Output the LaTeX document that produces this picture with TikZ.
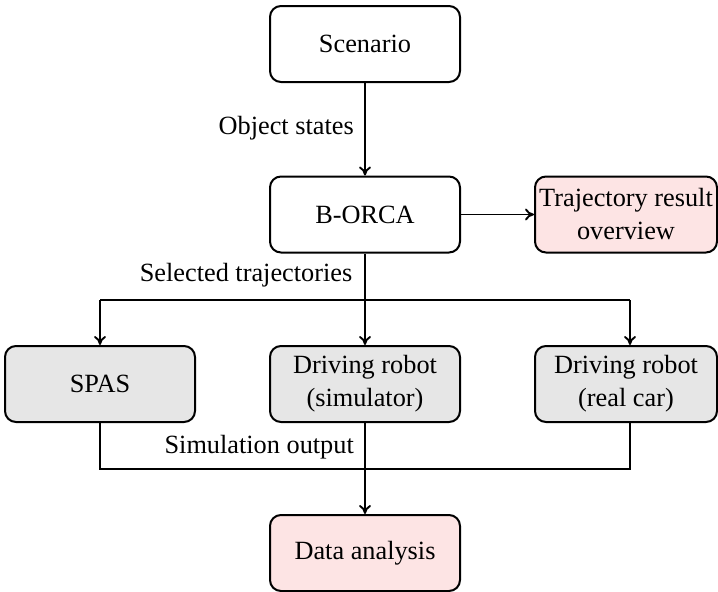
\documentclass[tikz,border=0pt]{standalone}
\usepackage{fontspec}
\setmainfont{Liberation Serif}
\usetikzlibrary{arrows.meta}
\definecolor{pinkfill}{HTML}{FDE4E4}
\definecolor{grayfill}{HTML}{E6E6E6}
\begin{document}
\begin{tikzpicture}[x=1pt,y=-1pt,
  font=\fontsize{26.3}{33}\selectfont,
  box/.style={draw, line width=2pt, rounded corners=11pt, minimum width=190pt,
    minimum height=76pt, align=center, inner sep=3pt},
  narrowbox/.style={box, minimum width=182pt},
  pinkbox/.style={fill=pinkfill},
  graybox/.style={fill=grayfill},
  conn/.style={line width=1.9pt},
  arr/.style={conn, -{To[length=9pt,width=12pt]}},
  lbl/.style={inner sep=0pt, anchor=east}]
\useasboundingbox (0,0) rectangle (718,592);

\node[box] (scen) at (365,44) {Scenario};
\node[box] (borca) at (365,214.5) {B-ORCA};
\node[narrowbox, pinkbox] (traj) at (626,214.5) {Trajectory result\\overview};
\node[box, graybox] (spas) at (100,384) {SPAS};
\node[box, graybox] (sim) at (365,384) {Driving robot\\(simulator)};
\node[narrowbox, graybox] (real) at (626,384) {Driving robot\\(real car)};
\node[box, pinkbox] (data) at (365,553) {Data analysis};

\node[lbl] (l1) at (354,128) {Object states};
\node[lbl] (l2) at (352.5,275) {Selected trajectories};
\node[lbl] (l3) at (354,447) {Simulation output};

\draw[arr] (scen) -- (borca);
\draw[arr] (borca) -- (traj);

\coordinate (split) at (365,300);
\coordinate (sl) at (100,300);
\coordinate (sr) at (630,300);
\draw[conn] (borca.south) -- (split);
\draw[conn] (sl) -- (sr);
\draw[arr] (sl) -- (spas.north);
\draw[arr] (split) -- (sim.north);
\draw[arr] (sr) -- (sr |- real.north);

\coordinate (jl) at (100,469);
\coordinate (jr) at (630,469);
\draw[conn] (spas.south) -- (jl) -- (jr) -- (jr |- real.south);
\draw[arr] (sim.south) -- (data.north);
\end{tikzpicture}
\end{document}
